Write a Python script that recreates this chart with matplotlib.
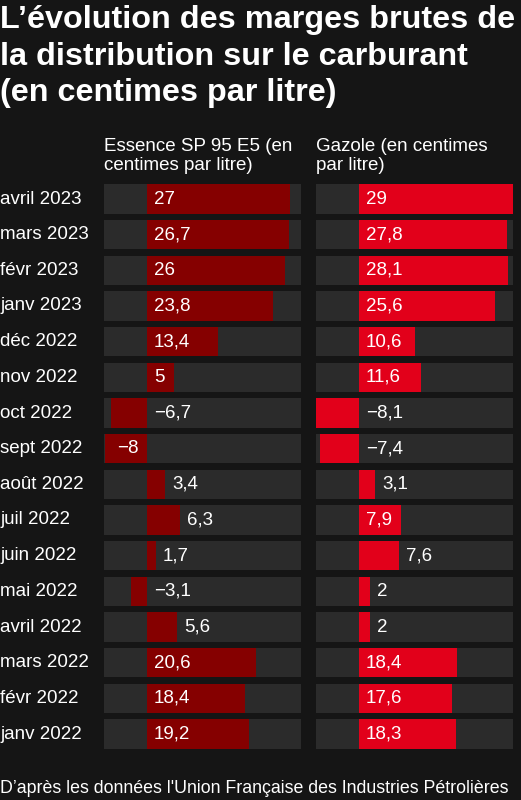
import matplotlib
matplotlib.use("Agg")
import matplotlib.pyplot as plt
import matplotlib.transforms as mtransforms

plt.rcParams["font.family"] = ["Liberation Sans", "DejaVu Sans"]

# --- Data (centimes par litre) ---
months = ["avril 2023", "mars 2023", "févr 2023", "janv 2023", "déc 2022",
          "nov 2022", "oct 2022", "sept 2022", "août 2022", "juil 2022",
          "juin 2022", "mai 2022", "avril 2022", "mars 2022", "févr 2022",
          "janv 2022"]
essence = [27, 26.7, 26, 23.8, 13.4, 5, -6.7, -8, 3.4, 6.3, 1.7, -3.1, 5.6,
           20.6, 18.4, 19.2]
gazole = [29, 27.8, 28.1, 25.6, 10.6, 11.6, -8.1, -7.4, 3.1, 7.9, 7.6, 2, 2,
          18.4, 17.6, 18.3]

series_titles = [["Essence SP 95 E5 (en", "centimes par litre)"],
                 ["Gazole (en centimes", "par litre)"]]
title_lines = ["L’évolution des marges brutes de",
               "la distribution sur le carburant",
               "(en centimes par litre)"]
source = "D’après les données l'Union Française des Industries Pétrolières"

# --- Style ---
BG = "#151515"
TRACK = "#2b2b2b"
COLORS = ["#850000", "#e2001a"]
W, H = 521, 800
FS = 13.5
PAD = 7  # pixels

fig = plt.figure(figsize=(W / 100, H / 100), dpi=100, facecolor=BG)
renderer = fig.canvas.get_renderer()

xmin = min(min(essence), min(gazole))
xmax = max(max(essence), max(gazole))
n = len(months)

row_top, row_bottom = 199, 734
step = (row_bottom - row_top) / (n - 1)
ax_top = row_top - step / 2
ax_bot = row_bottom + step / 2
panels_x = [(104, 301), (316, 513)]


def fmt(v):
    s = f"{abs(v):g}".replace(".", ",")
    return ("\u2212" + s) if v < 0 else s


axes = []
for (x0, x1), values, color, sub in zip(panels_x, [essence, gazole], COLORS, series_titles):
    ax = fig.add_axes([x0 / W, 1 - ax_bot / H, (x1 - x0) / W, (ax_bot - ax_top) / H])
    ax.set_facecolor(BG)
    ax.set_xlim(xmin, xmax)
    ax.set_ylim(n - 0.5, -0.5)
    ax.axis("off")
    ypos = list(range(n))
    ax.barh(ypos, [xmax - xmin] * n, left=xmin, height=0.82, color=TRACK)
    ax.barh(ypos, values, left=0, height=0.82, color=color)

    ppu = ax.transData.transform((1, 0))[0] - ax.transData.transform((0, 0))[0]
    for y, v in zip(ypos, values):
        lab = fmt(v)
        t = ax.text(0, y, lab, fontsize=FS, color="white", va="center")
        tw = t.get_window_extent(renderer).width
        t.remove()
        inside = abs(v) * ppu >= tw + 2 * PAD + 1
        if v >= 0:
            anchor = 0 if inside else v
            ax.annotate(lab, (anchor, y), xytext=(PAD, 0), textcoords="offset pixels",
                        fontsize=FS, color="white", va="center", ha="left")
        elif inside:
            ax.annotate(lab, (0, y), xytext=(-PAD - 1, 0), textcoords="offset pixels",
                        fontsize=FS, color="white", va="center", ha="right")
        else:
            ax.annotate(lab, (0, y), xytext=(PAD, 0), textcoords="offset pixels",
                        fontsize=FS, color="white", va="center", ha="left")

    for line, base in zip(sub, [151, 170]):
        fig.text(x0 / W, 1 - base / H, line, fontsize=FS, color="white",
                 va="baseline", ha="left")
    axes.append(ax)

# month labels
trans = mtransforms.blended_transform_factory(fig.transFigure, axes[0].transData)
for y, m in enumerate(months):
    axes[0].text(0, y, m, transform=trans, fontsize=FS, color="white",
                 va="center", ha="left", clip_on=False)

# title
for line, base in zip(title_lines, [28, 65, 101]):
    fig.text(0, 1 - base / H, line, fontsize=23.3, fontweight="bold", color="white",
             va="baseline", ha="left")

# source, fitted to its width in the reference
src = fig.text(0, 1 - 793 / H, source, fontsize=FS, color="white", va="baseline", ha="left")
sw = src.get_window_extent(renderer).width
src.set_fontsize(FS * 507 / sw)

fig.savefig("out.png", dpi=100, facecolor=BG)
